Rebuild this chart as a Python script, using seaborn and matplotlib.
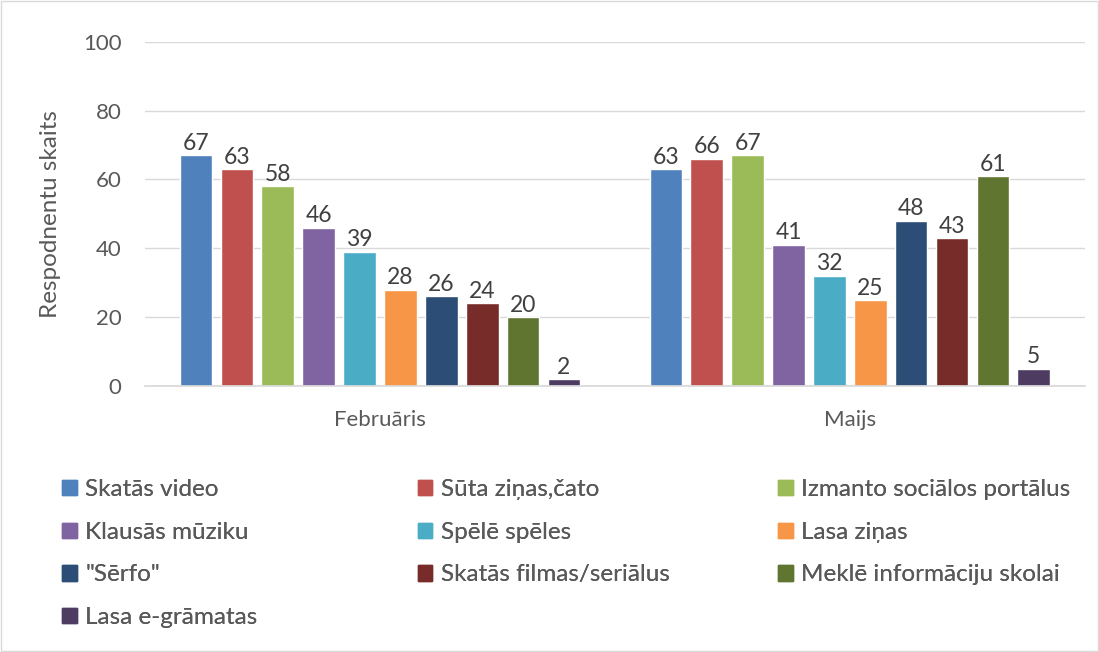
import pandas as pd
import matplotlib.pyplot as plt
import matplotlib.patches as mpatches
import seaborn as sns

# Data
periods = ["Februāris", "Maijs"]
activities = ["Skatās video", "Sūta ziņas,čato", "Izmanto sociālos portālus",
              "Klausās mūziku", "Spēlē spēles", "Lasa ziņas",
              "\"Sērfo\"", "Skatās filmas/seriālus", "Meklē informāciju skolai",
              "Lasa e-grāmatas"]
feb_values = [67, 63, 58, 46, 39, 28, 26, 24, 20, 2]
may_values = [63, 66, 67, 41, 32, 25, 48, 43, 61, 5]
colors = ["#4F81BD", "#C0504D", "#9BBB59", "#8064A2", "#4BACC6",
          "#F79646", "#2C4D75", "#772C2A", "#5F7530", "#4D3B62"]

data = pd.DataFrame({
    "Periods": [periods[0]] * len(activities) + [periods[1]] * len(activities),
    "Aktivitāte": activities * 2,
    "Skaits": feb_values + may_values,
})

sns.set_theme(style="white")
plt.rcParams["font.family"] = ["Lato", "DejaVu Sans"]
text_color = "#595959"

fig = plt.figure(figsize=(10.99, 6.52), dpi=100)
ax = fig.add_axes([0.132, 0.408, 0.855, 0.528])

sns.barplot(data=data, x="Periods", y="Skaits", hue="Aktivitāte",
            hue_order=activities, palette=colors, width=0.87, gap=0.2,
            saturation=1, legend=False, ax=ax)

for cont in ax.containers:
    ax.bar_label(cont, fontsize=16.5, color="#404040", padding=1)

ax.set_ylim(0, 100)
ax.set_xlim(-0.5, 1.5)
ax.set_yticks(range(0, 101, 20))
ax.yaxis.grid(True, color="#D9D9D9", linewidth=1)
ax.set_axisbelow(True)
for s in ["top", "right", "left"]:
    ax.spines[s].set_visible(False)
ax.spines["bottom"].set_color("#D9D9D9")
ax.tick_params(axis="y", labelsize=16, labelcolor=text_color, length=0, pad=17)
ax.tick_params(axis="x", labelsize=16, labelcolor=text_color, length=0, pad=17)
ax.set_xlabel("")
ax.set_ylabel("Respodnentu skaits", fontsize=17.5, color=text_color, labelpad=16)

# Legend in three columns, placed separately so columns line up like the original
col_x = [0.0564, 0.380, 0.708]
for c in range(3):
    idx = list(range(c, len(activities), 3))
    handles = [mpatches.Patch(color=colors[i]) for i in idx]
    labels = [activities[i] for i in idx]
    leg = fig.legend(handles, labels, loc="upper left", bbox_to_anchor=(col_x[c], 0.265),
                     frameon=False, fontsize=17.5, labelcolor=text_color,
                     handlelength=0.6, handleheight=0.6, handletextpad=0.35,
                     labelspacing=0.89, borderaxespad=0, borderpad=0)
    fig.add_artist(leg)

fig.patches.append(mpatches.Rectangle((0.001, 0.001), 0.998, 0.997, transform=fig.transFigure,
                                      fill=False, edgecolor="#D9D9D9", linewidth=1))

fig.savefig("out.png", dpi=100)
